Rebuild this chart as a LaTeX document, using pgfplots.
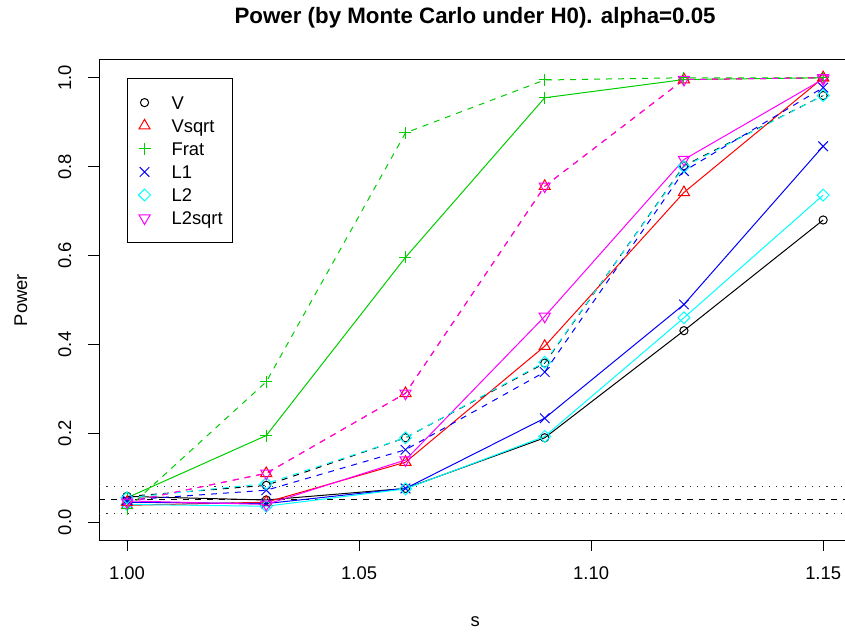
\documentclass[border=0pt]{standalone}
\usepackage{fontspec}
\setmainfont{Liberation Sans}
\usepackage{pgfplots}
\pgfplotsset{compat=1.18}
\definecolor{rred}{RGB}{255,0,0}
\definecolor{rgreen}{RGB}{0,205,0}
\definecolor{rblue}{RGB}{0,0,255}
\definecolor{rcyan}{RGB}{0,255,255}
\definecolor{rmag}{RGB}{255,0,255}
\pgfplotsset{
  mV/.style={mark=o, mark size=4.1bp, mark options={solid}},
  mVsqrt/.style={mark=triangle, mark size=6.4bp, mark options={solid}},
  mFrat/.style={mark=+, mark size=6bp, mark options={solid}},
  mL1/.style={mark=x, mark size=6.8bp, mark options={solid}},
  mL2/.style={mark=square, mark size=4.2bp, mark options={solid, rotate=45}},
  mL2sqrt/.style={mark=triangle, mark size=6.4bp, mark options={solid, rotate=180}},
  dsh/.style={dash pattern=on 6bp off 6bp},
}
\begin{document}
\begin{tikzpicture}
\useasboundingbox (0,0) rectangle (845bp,634bp);
\begin{axis}[
  at={(99.2bp,94bp)}, anchor=south west,
  scale only axis, width=751.8bp, height=480bp,
  xmin=0.994, xmax=1.156, ymin=-0.04, ymax=1.04,
  xtick={1.00,1.05,1.10,1.15}, xticklabels={1.00,1.05,1.10,1.15},
  ytick={0,0.2,0.4,0.6,0.8,1.0}, yticklabels={0.0,0.2,0.4,0.6,0.8,1.0},
  /pgf/number format/assume math mode=true,
  tick align=outside, xtick pos=bottom, ytick pos=left,
  major tick length=11bp,
  every tick/.style={black, line width=1bp},
  axis line style={line width=1bp},
  font=\fontsize{18.4bp}{22bp}\selectfont,
  xticklabel style={anchor=north, inner sep=0pt, text height=13.2bp, text depth=0pt, yshift=-15bp},
  yticklabel style={xshift=-17bp, rotate=90, anchor=south, inner sep=0pt, text height=13.2bp, text depth=0pt},
  title={Power (by Monte Carlo under H0). alpha=0.05},
  every axis title/.style={at={(axis description cs:0.5,1)}, anchor=base, yshift=36bp, font=\bfseries\fontsize{22.3bp}{26bp}\selectfont},
  xlabel={s},
  every axis x label/.style={at={(axis description cs:0.5,-0.1792)}, anchor=base},
  ylabel={Power},
  every axis y label/.style={at={(axis description cs:-0.096,0.5)}, rotate=90, anchor=base},
  every axis plot/.append style={line width=1bp},
  legend image code/.code={\path[draw=none,fill=none] (-7bp,-11.55bp) rectangle (27bp,11.55bp); \draw[#1, only marks, line width=1bp] plot coordinates {(0bp,0bp)};},
  legend style={at={(axis cs:1.00,1.0)}, anchor=north west, draw=black, line width=1bp, fill=white,
    inner xsep=10bp, inner ysep=12.8bp, row sep=0pt, column sep=0pt, cells={anchor=west},
    nodes={inner sep=0pt, text height=13.2bp, text depth=0pt},
    font=\fontsize{18.4bp}{22bp}\selectfont},
  clip=false,
]
% reference lines
\addplot[black!80, dash pattern=on 1.2bp off 6bp, line width=1bp, forget plot] coordinates {(0.994,0.02) (1.156,0.02)};
\addplot[black!80, dash pattern=on 1.2bp off 6bp, line width=1bp, forget plot] coordinates {(0.994,0.08) (1.156,0.08)};
\addplot[black, dsh, line width=1bp, forget plot] coordinates {(0.994,0.05) (1.156,0.05)};
% solid series
\addplot[black, mV, forget plot] coordinates {(1.00,0.058) (1.03,0.050) (1.06,0.076) (1.09,0.190) (1.12,0.431) (1.15,0.680)};
\addplot[rred, mVsqrt, forget plot] coordinates {(1.00,0.038) (1.03,0.045) (1.06,0.135) (1.09,0.396) (1.12,0.742) (1.15,1.000)};
\addplot[rgreen, mFrat, forget plot] coordinates {(1.00,0.055) (1.03,0.195) (1.06,0.596) (1.09,0.955) (1.12,0.996) (1.15,1.000)};
\addplot[rblue, mL1, forget plot] coordinates {(1.00,0.045) (1.03,0.042) (1.06,0.076) (1.09,0.234) (1.12,0.490) (1.15,0.846)};
\addplot[rcyan, mL2, forget plot] coordinates {(1.00,0.040) (1.03,0.036) (1.06,0.075) (1.09,0.193) (1.12,0.460) (1.15,0.736)};
\addplot[rmag, mL2sqrt, forget plot] coordinates {(1.00,0.048) (1.03,0.040) (1.06,0.140) (1.09,0.463) (1.12,0.816) (1.15,0.997)};
% dashed series
\addplot[black, dsh, mV, forget plot] coordinates {(1.00,0.058) (1.03,0.083) (1.06,0.190) (1.09,0.358) (1.12,0.802) (1.15,0.960)};
\addplot[rred, dsh, mVsqrt, forget plot] coordinates {(1.00,0.045) (1.03,0.110) (1.06,0.290) (1.09,0.756) (1.12,0.996) (1.15,1.000)};
\addplot[rgreen, dsh, mFrat, forget plot] coordinates {(1.00,0.030) (1.03,0.316) (1.06,0.876) (1.09,0.995) (1.12,1.000) (1.15,1.000)};
\addplot[rblue, dsh, mL1, forget plot] coordinates {(1.00,0.050) (1.03,0.072) (1.06,0.163) (1.09,0.338) (1.12,0.790) (1.15,0.978)};
\addplot[rcyan, dsh, mL2, forget plot] coordinates {(1.00,0.055) (1.03,0.087) (1.06,0.190) (1.09,0.360) (1.12,0.800) (1.15,0.960)};
\addplot[rmag, dsh, mL2sqrt, forget plot] coordinates {(1.00,0.045) (1.03,0.110) (1.06,0.290) (1.09,0.756) (1.12,0.996) (1.15,1.000)};
% legend
\addlegendimage{black, mV}\addlegendentry{V}
\addlegendimage{rred, mVsqrt}\addlegendentry{Vsqrt}
\addlegendimage{rgreen, mFrat}\addlegendentry{Frat}
\addlegendimage{rblue, mL1}\addlegendentry{L1}
\addlegendimage{rcyan, mL2}\addlegendentry{L2}
\addlegendimage{rmag, mL2sqrt}\addlegendentry{L2sqrt}
\end{axis}
\end{tikzpicture}
\end{document}
